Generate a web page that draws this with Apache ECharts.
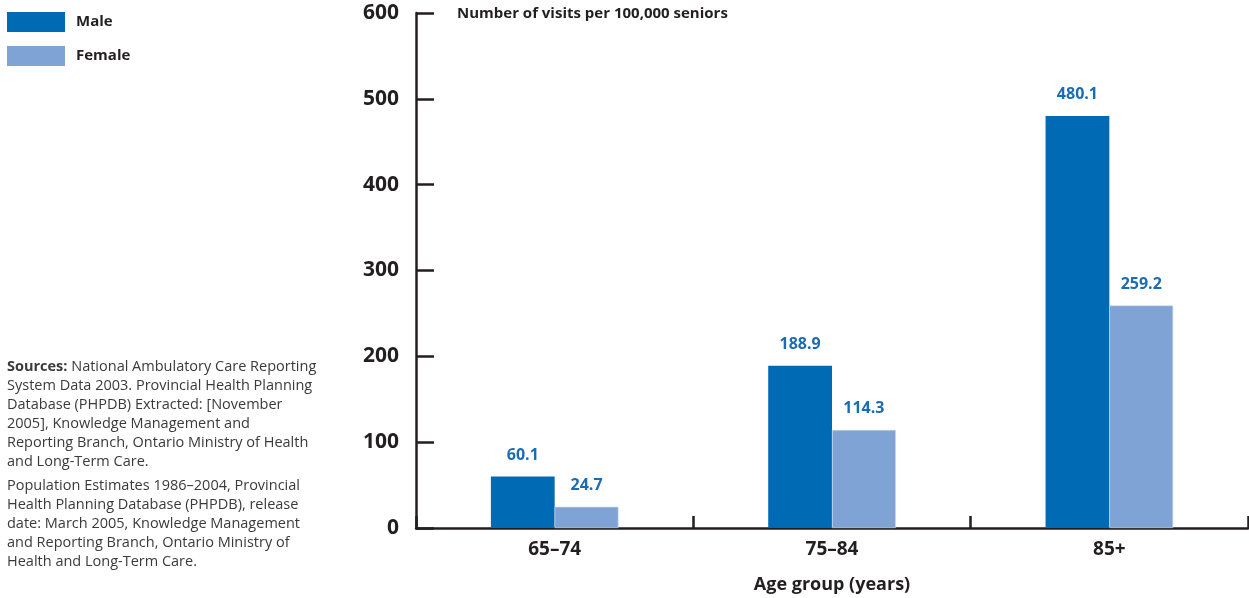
<!DOCTYPE html>
<html>
<head>
<meta charset="utf-8">
<script src="https://cdn.jsdelivr.net/npm/echarts@6/dist/echarts.min.js"></script>
<style>
  html, body { margin: 0; padding: 0; background: #fff; }
  #chart { width: 1249px; height: 598px; }
</style>
</head>
<body>
<div id="chart"></div>
<script>
// Emergency visits per 100,000 seniors, by age group and sex
const ageGroups = ['65\u201374', '75\u201384', '85+'];
const maleVisits = [60.1, 188.9, 480.1];
const femaleVisits = [24.7, 114.3, 259.2];
const yTicks = [0, 100, 200, 300, 400, 500, 600];

const INK = '#231f20';
const MALE = '#006ab4';
const FEMALE = '#7fa3d5';
const LABEL = '#1a6db5';
const FONT = '"Open Sans", "Noto Sans", sans-serif';

const chart = echarts.init(document.getElementById('chart'), null, { renderer: 'canvas' });

const barLabel = {
  show: true,
  position: 'top',
  distance: 13,
  color: LABEL,
  fontFamily: FONT,
  fontWeight: 'bold',
  fontSize: 16,
  letterSpacing: -0.5,
  formatter: p => p.value.toFixed(1)
};

chart.setOption({
  animation: false,
  textStyle: { fontFamily: FONT },
  title: {
    text: 'Number of visits per 100,000 seniors',
    left: 457,
    top: 6,
    padding: 0,
    textStyle: { color: INK, fontFamily: FONT, fontWeight: 'bold', fontSize: 15 }
  },
  legend: {
    orient: 'vertical',
    left: 7,
    top: 12,
    padding: 0,
    itemWidth: 58,
    itemHeight: 20,
    itemGap: 14,
    icon: 'rect',
    itemStyle: { borderWidth: 0 },
    textStyle: { color: INK, fontFamily: FONT, fontWeight: 'bold', fontSize: 15, padding: [0, 0, 0, 6] },
    data: ['Male', 'Female']
  },
  grid: { left: 416, right: 1, top: 13, bottom: 70, containLabel: false, outerBoundsMode: 'none' },
  xAxis: {
    type: 'category',
    data: ageGroups,
    name: 'Age group (years)',
    nameLocation: 'middle',
    nameGap: 48,
    nameTextStyle: { color: INK, fontFamily: FONT, fontWeight: 'bold', fontSize: 18 },
    axisLine: { lineStyle: { color: INK, width: 2.5 } },
    axisTick: { show: true, inside: true, length: 12, alignWithLabel: false, lineStyle: { color: INK, width: 2.5 } },
    axisLabel: { color: INK, fontFamily: FONT, fontWeight: 'bold', fontSize: 19, margin: 12 },
    splitLine: { show: false }
  },
  yAxis: {
    type: 'value',
    min: yTicks[0],
    max: yTicks[yTicks.length - 1],
    interval: yTicks[1] - yTicks[0],
    axisLine: { show: true, lineStyle: { color: INK, width: 2.5 } },
    axisTick: { show: true, inside: true, length: 18, lineStyle: { color: INK, width: 2.5 } },
    axisLabel: { color: INK, fontFamily: FONT, fontWeight: 'bold', fontSize: 21, margin: 17 },
    splitLine: { show: false }
  },
  series: [
    {
      name: 'Male',
      type: 'bar',
      data: maleVisits,
      barWidth: '23%',
      barGap: '0%',
      itemStyle: { color: MALE },
      label: barLabel
    },
    {
      name: 'Female',
      type: 'bar',
      data: femaleVisits,
      barWidth: '23%',
      itemStyle: { color: FEMALE, borderColor: '#c9d8ee', borderWidth: 0.6 },
      label: barLabel
    }
  ],
  graphic: [
    {
      type: 'text',
      left: 7,
      top: 357,
      style: {
        text: '{b|Sources:} National Ambulatory Care Reporting\nSystem Data 2003. Provincial Health Planning\nDatabase (PHPDB) Extracted: [November\n2005], Knowledge Management and\nReporting Branch, Ontario Ministry of Health\nand Long-Term Care.',
        fontFamily: FONT,
        fontSize: 14.5,
        lineHeight: 19,
        fill: '#3a3a3a',
        rich: {
          b: { fontFamily: FONT, fontSize: 14.5, fontWeight: 'bold', lineHeight: 19, fill: '#3a3a3a' }
        }
      }
    },
    {
      type: 'text',
      left: 7,
      top: 476,
      style: {
        text: 'Population Estimates 1986\u20132004, Provincial\nHealth Planning Database (PHPDB), release\ndate: March 2005, Knowledge Management\nand Reporting Branch, Ontario Ministry of\nHealth and Long-Term Care.',
        fontFamily: FONT,
        fontSize: 14.5,
        lineHeight: 19,
        fill: '#3a3a3a'
      }
    }
  ]
});
</script>
</body>
</html>
